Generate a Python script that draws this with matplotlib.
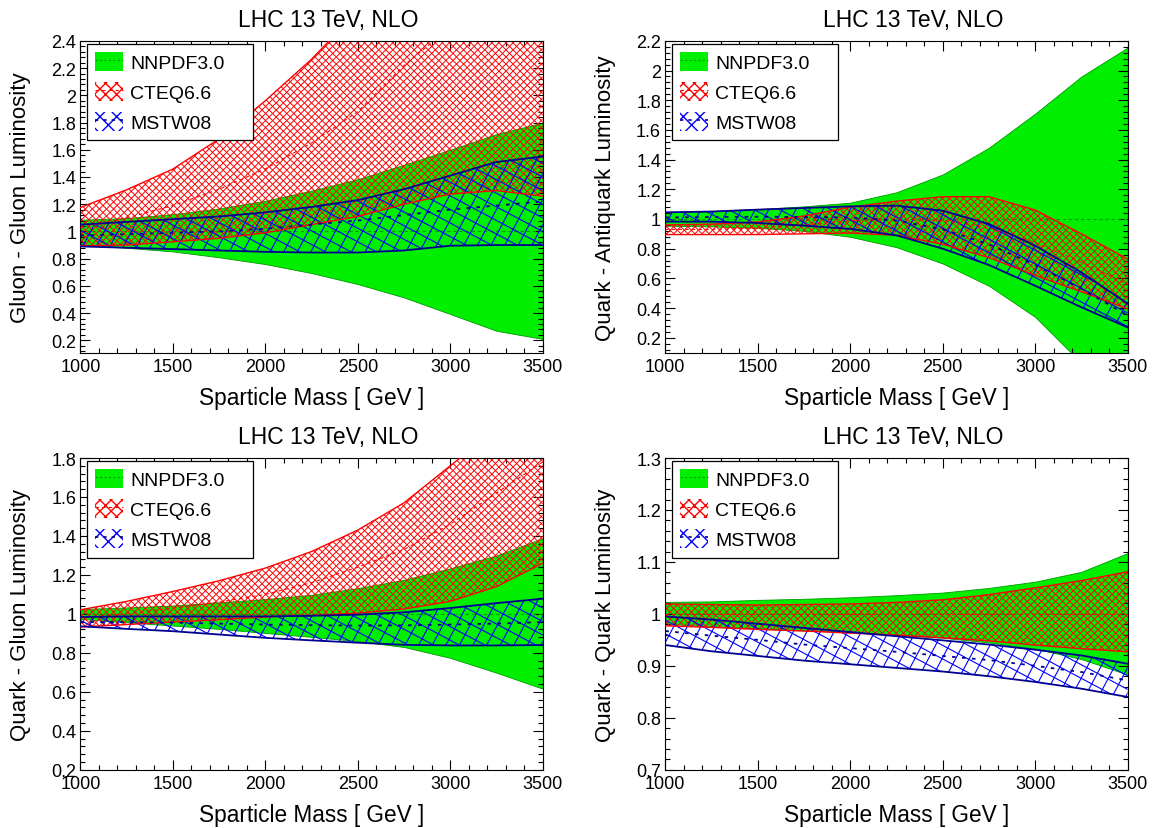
import numpy as np
import matplotlib
matplotlib.use('Agg')
import matplotlib.pyplot as plt
from matplotlib.collections import LineCollection
from matplotlib.patches import Patch
from matplotlib.lines import Line2D
from matplotlib.ticker import MultipleLocator, FormatStrFormatter

plt.rcParams['font.family'] = ['Liberation Sans', 'DejaVu Sans']

# Sparticle mass grid [GeV]
mass = [1000, 1250, 1500, 1750, 2000, 2250, 2500, 2750, 3000, 3250, 3500]

# --- gluon-gluon ---
gg_nn_lo = [0.90, 0.88, 0.853, 0.81, 0.76, 0.694, 0.613, 0.515, 0.393, 0.27, 0.21]
gg_nn_hi = [1.086, 1.098, 1.127, 1.169, 1.225, 1.30, 1.384, 1.49, 1.60, 1.715, 1.80]
gg_ct_lo = [0.895, 0.90, 0.924, 0.95, 0.99, 1.05, 1.11, 1.20, 1.275, 1.30, 1.26]
gg_ct_hi = [1.176, 1.306, 1.458, 1.68, 1.96, 2.265, 2.62, 3.05, 3.5, 4.0, 4.6]
gg_ct_c = [1.03, 1.10, 1.19, 1.31, 1.46, 1.65, 1.88, 2.22, 2.5, 2.8, 3.1]
gg_ms_lo = [0.89, 0.88, 0.87, 0.86, 0.85, 0.845, 0.845, 0.86, 0.895, 0.90, 0.90]
gg_ms_hi = [1.05, 1.07, 1.09, 1.11, 1.14, 1.18, 1.23, 1.31, 1.41, 1.51, 1.55]
gg_ms_c = [0.97, 0.98, 0.99, 1.0, 1.02, 1.05, 1.08, 1.12, 1.16, 1.19, 1.22]

# --- quark-antiquark ---
qa_nn_lo = [0.955, 0.95, 0.94, 0.92, 0.88, 0.81, 0.70, 0.55, 0.34, 0.03, -0.35]
qa_nn_hi = [1.045, 1.054, 1.067, 1.085, 1.11, 1.18, 1.30, 1.48, 1.71, 1.96, 2.155]
qa_ct_lo = [0.895, 0.895, 0.895, 0.90, 0.905, 0.89, 0.83, 0.74, 0.62, 0.51, 0.395]
qa_ct_hi = [0.96, 0.965, 0.98, 1.02, 1.08, 1.12, 1.15, 1.15, 1.06, 0.90, 0.73]
qa_ct_c = [0.93, 0.93, 0.94, 0.96, 0.99, 1.0, 0.99, 0.94, 0.84, 0.71, 0.56]
qa_ms_lo = [0.982, 0.982, 0.973, 0.955, 0.933, 0.89, 0.80, 0.69, 0.55, 0.405, 0.27]
qa_ms_hi = [1.045, 1.05, 1.063, 1.074, 1.085, 1.09, 1.056, 0.966, 0.82, 0.64, 0.43]
qa_ms_c = [1.01, 1.013, 1.015, 1.013, 1.01, 0.99, 0.93, 0.83, 0.69, 0.53, 0.35]

# --- quark-gluon ---
qg_nn_lo = [0.974, 0.957, 0.94, 0.923, 0.902, 0.882, 0.86, 0.83, 0.774, 0.698, 0.616]
qg_nn_hi = [1.025, 1.033, 1.043, 1.059, 1.076, 1.098, 1.132, 1.175, 1.234, 1.30, 1.388]
qg_ct_lo = [0.933, 0.945, 0.958, 0.97, 0.984, 0.992, 1.004, 1.025, 1.064, 1.14, 1.26]
qg_ct_hi = [1.021, 1.064, 1.115, 1.17, 1.235, 1.32, 1.43, 1.57, 1.76, 1.95, 2.15]
qg_ct_c = [0.98, 1.0, 1.03, 1.06, 1.10, 1.16, 1.24, 1.33, 1.46, 1.62, 1.78]
qg_ms_lo = [0.936, 0.923, 0.911, 0.894, 0.877, 0.864, 0.852, 0.841, 0.838, 0.838, 0.84]
qg_ms_hi = [0.984, 0.987, 0.987, 0.987, 0.987, 0.99, 0.996, 1.008, 1.03, 1.055, 1.078]
qg_ms_c = [0.958, 0.957, 0.955, 0.95, 0.945, 0.942, 0.94, 0.941, 0.945, 0.95, 0.958]

# --- quark-quark ---
qq_nn_lo = [0.981, 0.976, 0.972, 0.968, 0.965, 0.96, 0.954, 0.945, 0.933, 0.913, 0.883]
qq_nn_hi = [1.023, 1.024, 1.027, 1.029, 1.032, 1.036, 1.041, 1.05, 1.062, 1.081, 1.117]
qq_ct_lo = [0.977, 0.974, 0.97, 0.967, 0.963, 0.959, 0.954, 0.948, 0.94, 0.933, 0.927]
qq_ct_hi = [1.019, 1.018, 1.017, 1.018, 1.019, 1.022, 1.027, 1.037, 1.05, 1.064, 1.081]
qq_ct_c = [0.999, 0.999, 0.999, 0.999, 0.999, 0.999, 0.999, 0.999, 0.999, 0.999, 0.999]
qq_ms_lo = [0.94, 0.928, 0.919, 0.91, 0.903, 0.896, 0.889, 0.88, 0.869, 0.856, 0.84]
qq_ms_hi = [0.995, 0.989, 0.981, 0.973, 0.965, 0.957, 0.949, 0.941, 0.931, 0.92, 0.904]
qq_ms_c = [0.967, 0.958, 0.95, 0.941, 0.934, 0.927, 0.919, 0.911, 0.90, 0.888, 0.872]

ylabels = ['Gluon - Gluon Luminosity', 'Quark - Antiquark Luminosity',
           'Quark - Gluon Luminosity', 'Quark - Quark Luminosity']
legend_labels = ['NNPDF3.0', 'CTEQ6.6', 'MSTW08']
title = 'LHC 13 TeV, NLO'

GREEN = '#00ee00'
DKGREEN = '#009a00'
NAVY = '#000090'


def hatch_band(ax, x, lo, hi, color, angles, step, lw):
    # ROOT-like hatching: straight lines clipped to the band
    poly = ax.fill_between(x, lo, hi, facecolor='none', edgecolor='none', linewidth=0)
    W, H = ax.bbox.width, ax.bbox.height
    corners = np.array([[0, 0], [W, 0], [0, H], [W, H]])
    segs = []
    L = W + H
    for a in angles:
        t = np.deg2rad(a)
        d = np.array([np.cos(t), np.sin(t)])
        n = np.array([-np.sin(t), np.cos(t)])
        proj = corners @ n
        for c in np.arange(proj.min() - step, proj.max() + step, step):
            p0 = c * n - L * d
            p1 = c * n + L * d
            segs.append([(p0[0] / W, p0[1] / H), (p1[0] / W, p1[1] / H)])
    lc = LineCollection(segs, colors=color, linewidths=lw, transform=ax.transAxes)
    lc.set_clip_path(poly.get_paths()[0], poly.get_transform())
    lc.set_clip_box(ax.bbox)
    ax.add_collection(lc, autolim=False)


def panel(ax, d, ylim, ymaj, ymin, ylabel):
    nn_lo, nn_hi, ct_lo, ct_hi, ct_c, ms_lo, ms_hi, ms_c = d
    ax.fill_between(mass, nn_lo, nn_hi, facecolor=GREEN, edgecolor=DKGREEN, linewidth=0.6, zorder=1)
    ax.axhline(1.0, color=DKGREEN, ls=(0, (3, 2.5)), lw=0.8, zorder=2)
    hatch_band(ax, mass, ct_lo, ct_hi, 'red', [45, -45], 5.0, 0.7)
    hatch_band(ax, mass, ms_lo, ms_hi, 'blue', [62, -28], 12.0, 0.8)
    ax.plot(mass, ct_lo, color='red', lw=1.0, zorder=3)
    ax.plot(mass, ct_hi, color='red', lw=1.0, zorder=3)
    ax.plot(mass, ct_c, color='red', ls=(0, (3, 3)), lw=0.8, zorder=3)
    ax.plot(mass, ms_lo, color=NAVY, lw=1.3, zorder=4)
    ax.plot(mass, ms_hi, color=NAVY, lw=1.3, zorder=4)
    ax.plot(mass, ms_c, color=NAVY, ls=(0, (2, 3.5)), lw=1.3, zorder=4)

    ax.set_xlim(1000, 3500)
    ax.set_ylim(*ylim)
    ax.xaxis.set_major_locator(MultipleLocator(500))
    ax.xaxis.set_minor_locator(MultipleLocator(100))
    ax.yaxis.set_major_locator(MultipleLocator(ymaj))
    ax.yaxis.set_minor_locator(MultipleLocator(ymin))
    ax.yaxis.set_major_formatter(FormatStrFormatter('%g'))
    ax.tick_params(which='both', direction='in', top=True, right=True, width=0.8)
    ax.tick_params(which='major', length=7.5)
    ax.tick_params(which='minor', length=3.8)
    ax.tick_params(axis='x', labelsize=13, pad=4.0)
    ax.tick_params(axis='y', labelsize=13, pad=3.0)
    for s in ax.spines.values():
        s.set_linewidth(0.8)

    ax.set_xlabel('Sparticle Mass [ GeV ]', fontsize=16.3)
    ax.xaxis.set_label_coords(0.5, -0.106)
    ax.set_ylabel(ylabel, fontsize=16)
    ax.yaxis.set_label_coords(-0.106, 0.5)
    ax.set_title(title, x=0.537, pad=10.5, fontsize=16.5)

    h_nn = (Patch(facecolor=GREEN, edgecolor='none'),
            Line2D([], [], color=DKGREEN, ls=(0, (2, 2)), lw=0.8))
    h_ct = (Patch(facecolor='none', edgecolor='red', hatch='xxx', lw=0),
            Line2D([], [], color='red', ls=(0, (3, 3)), lw=0.8))
    h_ms = (Patch(facecolor='none', edgecolor='blue', hatch='xx', lw=0),
            Line2D([], [], color=NAVY, ls=(0, (2, 3)), lw=1.2))
    leg = ax.legend([h_nn, h_ct, h_ms], legend_labels, loc='upper left',
                    bbox_to_anchor=(0.014, 0.688, 0.359, 0.302), mode='expand',
                    borderaxespad=0, fancybox=False, framealpha=1, edgecolor='black',
                    fontsize=14, handlelength=1.45, handleheight=1.1,
                    handletextpad=0.35, labelspacing=0.52, borderpad=0.42)
    leg.get_frame().set_linewidth(0.9)
    leg.set_zorder(10)


fig = plt.figure(figsize=(11.53, 8.29), dpi=100)
W = 0.401
H = 0.376
ax1 = fig.add_axes([0.0697, 0.5735, W, H])
ax2 = fig.add_axes([0.5770, 0.5735, W, H])
ax3 = fig.add_axes([0.0697, 0.0703, W, H])
ax4 = fig.add_axes([0.5770, 0.0703, W, H])

panel(ax1, (gg_nn_lo, gg_nn_hi, gg_ct_lo, gg_ct_hi, gg_ct_c, gg_ms_lo, gg_ms_hi, gg_ms_c),
      (0.11, 2.4), 0.2, 0.04, ylabels[0])
panel(ax2, (qa_nn_lo, qa_nn_hi, qa_ct_lo, qa_ct_hi, qa_ct_c, qa_ms_lo, qa_ms_hi, qa_ms_c),
      (0.1, 2.2), 0.2, 0.04, ylabels[1])
panel(ax3, (qg_nn_lo, qg_nn_hi, qg_ct_lo, qg_ct_hi, qg_ct_c, qg_ms_lo, qg_ms_hi, qg_ms_c),
      (0.2, 1.8), 0.2, 0.04, ylabels[2])
panel(ax4, (qq_nn_lo, qq_nn_hi, qq_ct_lo, qq_ct_hi, qq_ct_c, qq_ms_lo, qq_ms_hi, qq_ms_c),
      (0.7, 1.3), 0.1, 0.02, ylabels[3])

fig.savefig('out.png', dpi=100)
